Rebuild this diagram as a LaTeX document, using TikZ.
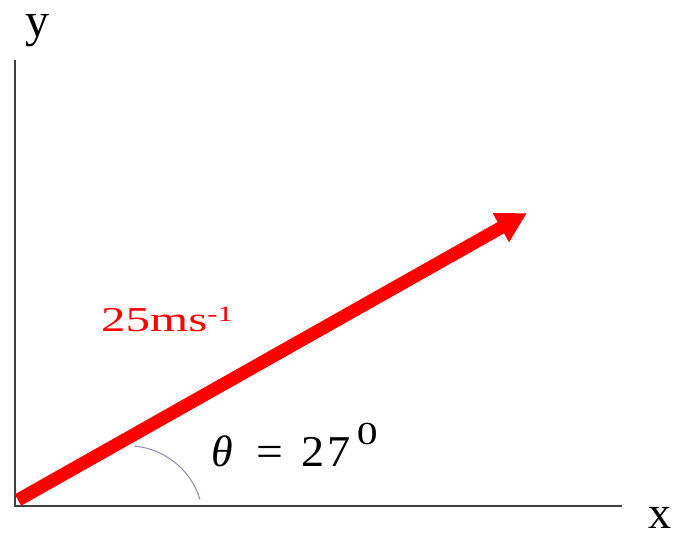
\documentclass[tikz,border=0pt]{standalone}
\usepackage{fontspec}
\setmainfont{Liberation Serif}
\usetikzlibrary{arrows.meta}
\definecolor{axisgray}{HTML}{404040}
\definecolor{arcblue}{HTML}{8A8CB0}
\begin{document}
\begin{tikzpicture}[x=1pt,y=-1pt,
  axis/.style={draw=axisgray,line width=2pt},
  vec/.style={draw=red,line width=13pt,-{Triangle[length=30pt,width=31pt]}},
  anglearc/.style={draw=arcblue,line width=1pt},
  lbl/.style={inner sep=0pt,anchor=base west}]
\useasboundingbox (0,0) rectangle (673,534);
\fill[white] (0,0) rectangle (673,534);
\coordinate (O) at (15,506);
\coordinate (Ytop) at (15,60);
\coordinate (Xend) at (622,506);
\coordinate (S) at (18,500);
\coordinate (T) at (527,213);
\coordinate (A1) at (200,499.5);
\draw[axis] (Ytop) -- (O) -- (Xend);
\draw[vec] (S) -- (T);
\draw[anglearc] (A1) arc[start angle=-16.9,end angle=-84.4,radius=75.7];
\node[lbl] (ylab) at (25,37) {\fontsize{48}{48}\selectfont y};
\node[lbl,text height=22pt,text depth=0pt] (xlab) at (648,529) {\fontsize{46}{46}\selectfont x};
\node[lbl,text=red] (vlab) at (101,332) {\scalebox{1.4}[1]{\fontsize{35}{35}\selectfont 25ms\raisebox{10pt}{\fontsize{22}{22}\selectfont -1}}};
\node[lbl] (tlab) at (211,467) {\fontsize{44}{44}\selectfont\textit{θ}\hspace{24pt}\scalebox{1.08}[1]{=}\hspace{18pt}\scalebox{1.05}[1]{2\hspace{3pt}7}\hspace{6pt}\raisebox{22pt}{\scalebox{1.3}[1]{\fontsize{32}{32}\selectfont 0}}};
\end{tikzpicture}
\end{document}
